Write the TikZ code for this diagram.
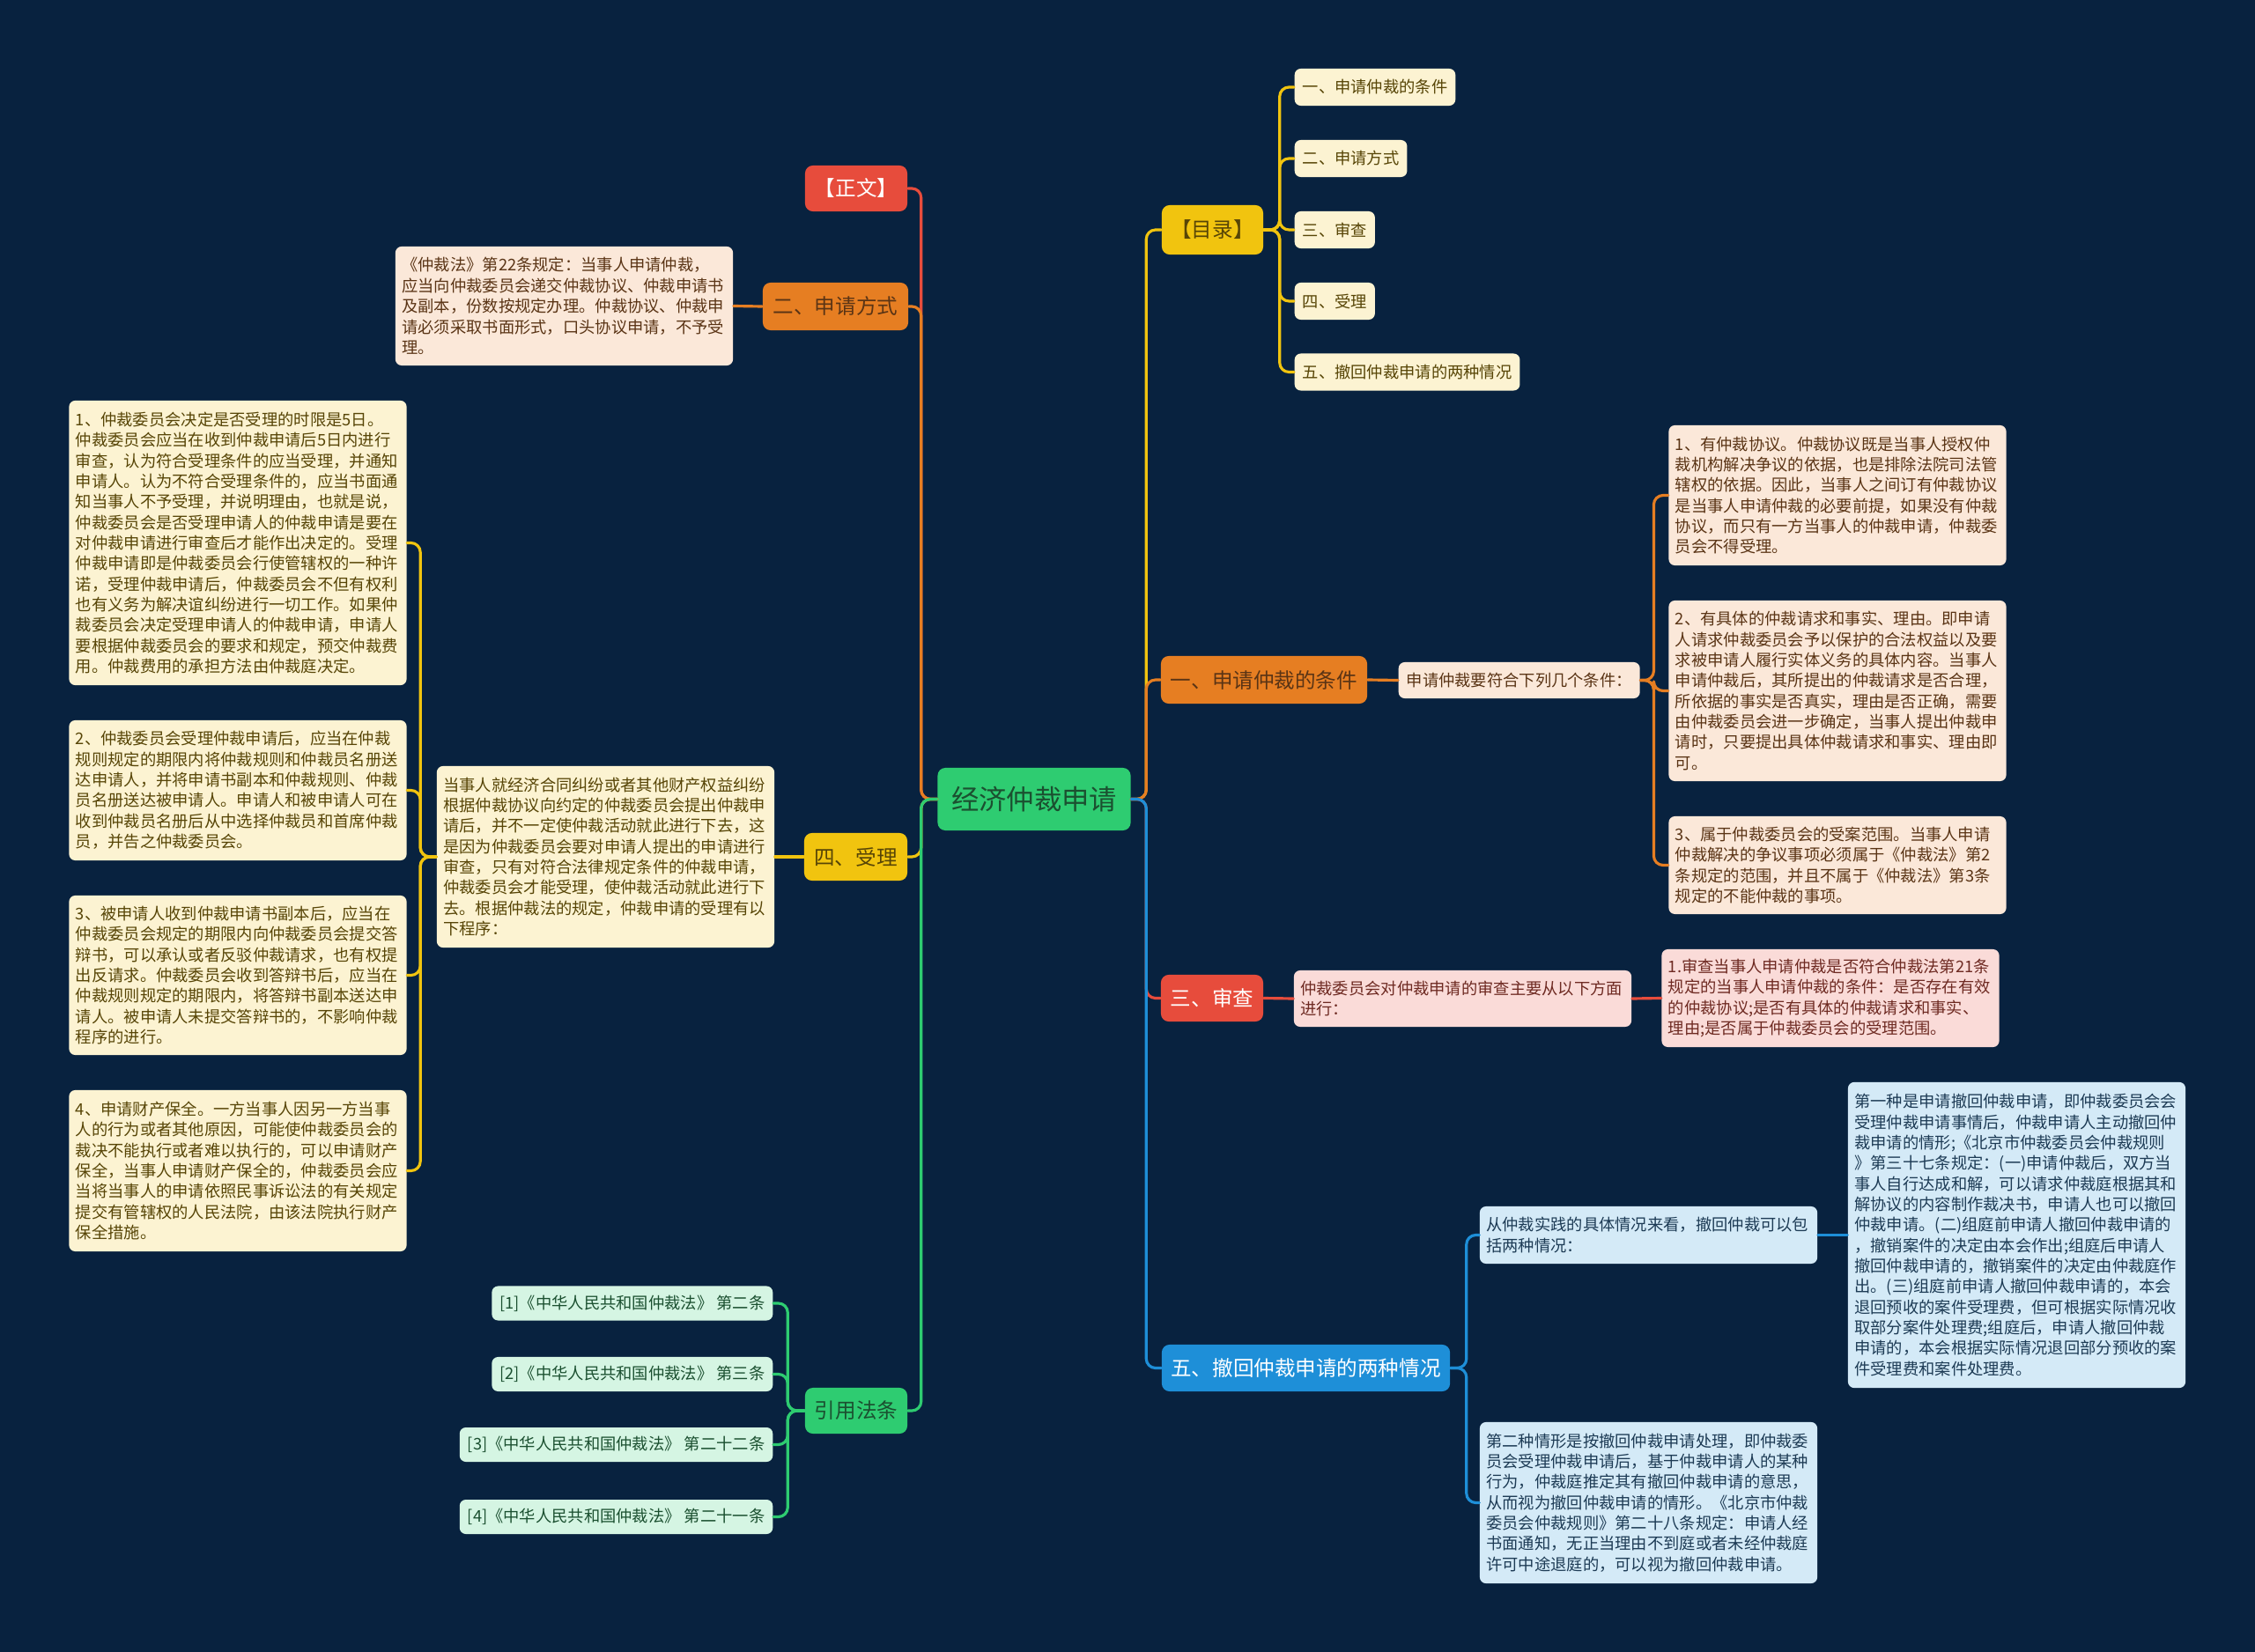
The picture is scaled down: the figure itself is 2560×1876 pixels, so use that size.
\documentclass[tikz,border=0pt]{standalone}
\usepackage{fontspec}
\setmainfont{Noto Sans CJK SC}
\usepackage{tikz}
\definecolor{mapbg}{HTML}{08223F}
\definecolor{mapgreen}{HTML}{2ECC71}
\definecolor{mapred}{HTML}{E74C3C}
\definecolor{maporange}{HTML}{E67E22}
\definecolor{mapyellow}{HTML}{F1C40F}
\definecolor{mapblue}{HTML}{1E8FD8}
\definecolor{leaforange}{HTML}{FBE8D9}
\definecolor{leafyellow}{HTML}{FCF3D2}
\definecolor{leafred}{HTML}{FADBD8}
\definecolor{leafblue}{HTML}{D4EAF7}
\definecolor{leafgreen}{HTML}{D5F5E3}
\definecolor{inkorange}{HTML}{5A3415}
\definecolor{inkyellow}{HTML}{574506}
\definecolor{inkred}{HTML}{6E2A22}
\definecolor{inkblue}{HTML}{1D3B55}
\definecolor{inkgreen}{HTML}{1B5030}

\begin{document}
\begin{tikzpicture}[x=0.01cm,y=-0.01cm,line cap=round,line join=round,
  topic/.style={rounded corners=2.5pt,inner sep=0pt,font=\fontsize{6.7}{8}\selectfont},
  leaf/.style={rounded corners=2pt,inner xsep=0.09cm,inner ysep=0pt,align=left,
    font=\fontsize{5.2}{6.64}\selectfont},
  note/.style={leaf,inner xsep=0.075cm,text width=3.68cm},
  link/.style={line width=0.9pt,rounded corners=3pt}]
\path[use as bounding box] (0,0) rectangle (2560,1876);
\fill[mapbg] (0,0) rectangle (2560,1876);
% 中心
\node[topic,fill=mapgreen,text=inkgreen,font=\fontsize{8.9}{10}\selectfont,
  minimum width=2.19cm,minimum height=0.71cm] (root) at (1174,907.5) {经济仲裁申请};
% 左侧一级
\node[topic,fill=mapred,text=white,minimum width=1.16cm,minimum height=0.52cm] (zw) at (972,214) {【正文】};
\node[topic,fill=maporange,text=inkorange,minimum width=1.65cm,minimum height=0.54cm] (sqfs) at (948.5,348) {二、申请方式};
\node[topic,fill=mapyellow,text=inkyellow,minimum width=1.17cm,minimum height=0.54cm] (sl) at (971.5,973) {四、受理};
\node[topic,fill=mapgreen,text=inkgreen,minimum width=1.16cm,minimum height=0.52cm] (yyft) at (972,1602) {引用法条};
% 右侧一级
\node[topic,fill=mapyellow,text=inkyellow,minimum width=1.15cm,minimum height=0.56cm] (ml) at (1376.5,261) {【目录】};
\node[topic,fill=maporange,text=inkorange,minimum width=2.34cm,minimum height=0.54cm] (tj) at (1435,772) {一、申请仲裁的条件};
\node[topic,fill=mapred,text=white,minimum width=1.16cm,minimum height=0.53cm] (sc) at (1376,1133.5) {三、审查};
\node[topic,fill=mapblue,text=white,minimum width=3.27cm,minimum height=0.53cm] (ch) at (1482.5,1553.5) {五、撤回仲裁申请的两种情况};
% 目录
\node[leaf,fill=leafyellow,text=inkyellow,anchor=west,minimum height=0.42cm] (ml1) at (1469,99) {一、申请仲裁的条件};
\node[leaf,fill=leafyellow,text=inkyellow,anchor=west,minimum height=0.42cm] (ml2) at (1469,180) {二、申请方式};
\node[leaf,fill=leafyellow,text=inkyellow,anchor=west,minimum height=0.42cm] (ml3) at (1469,261) {三、审查};
\node[leaf,fill=leafyellow,text=inkyellow,anchor=west,minimum height=0.42cm] (ml4) at (1469,342) {四、受理};
\node[leaf,fill=leafyellow,text=inkyellow,anchor=west,minimum height=0.42cm] (ml5) at (1469,422.5) {五、撤回仲裁申请的两种情况};
% 一、申请仲裁的条件
\node[leaf,fill=leaforange,text=inkorange,anchor=west,minimum height=0.41cm] (tjintro) at (1587,772.5) {申请仲裁要符合下列几个条件：};
\node[note,fill=leaforange,text=inkorange,minimum height=1.59cm] (tj1) at (2086,562.5)
  {1、有仲裁协议。仲裁协议既是当事人授权仲\\裁机构解决争议的依据，也是排除法院司法管\\辖权的依据。因此，当事人之间订有仲裁协议\\是当事人申请仲裁的必要前提，如果没有仲裁\\协议，而只有一方当事人的仲裁申请，仲裁委\\员会不得受理。};
\node[note,fill=leaforange,text=inkorange,minimum height=2.05cm] (tj2) at (2086,784.5)
  {2、有具体的仲裁请求和事实、理由。即申请\\人请求仲裁委员会予以保护的合法权益以及要\\求被申请人履行实体义务的具体内容。当事人\\申请仲裁后，其所提出的仲裁请求是否合理，\\所依据的事实是否真实，理由是否正确，需要\\由仲裁委员会进一步确定，当事人提出仲裁申\\请时，只要提出具体仲裁请求和事实、理由即\\可。};
\node[note,fill=leaforange,text=inkorange,minimum height=1.11cm] (tj3) at (2086,982.5)
  {3、属于仲裁委员会的受案范围。当事人申请\\仲裁解决的争议事项必须属于《仲裁法》第2\\条规定的范围，并且不属于《仲裁法》第3条\\规定的不能仲裁的事项。};
% 三、审查
\node[note,fill=leafred,text=inkred,minimum height=0.64cm] (scintro) at (1660.5,1134)
  {仲裁委员会对仲裁申请的审查主要从以下方面\\进行：};
\node[note,fill=leafred,text=inkred,minimum height=1.11cm] (sc1) at (2078,1133.5)
  {1.审查当事人申请仲裁是否符合仲裁法第21条\\规定的当事人申请仲裁的条件：是否存在有效\\的仲裁协议;是否有具体的仲裁请求和事实、\\理由;是否属于仲裁委员会的受理范围。};
% 五、撤回
\node[note,fill=leafblue,text=inkblue,minimum height=0.65cm] (chintro) at (1871.5,1402.5)
  {从仲裁实践的具体情况来看，撤回仲裁可以包\\括两种情况：};
\node[note,fill=leafblue,text=inkblue,minimum height=3.47cm] (ch1) at (2289.5,1402.5)
  {第一种是申请撤回仲裁申请，即仲裁委员会会\\受理仲裁申请事情后，仲裁申请人主动撤回仲\\裁申请的情形;《北京市仲裁委员会仲裁规则\\》第三十七条规定：(一)申请仲裁后，双方当\\事人自行达成和解，可以请求仲裁庭根据其和\\解协议的内容制作裁决书，申请人也可以撤回\\仲裁申请。(二)组庭前申请人撤回仲裁申请的\\，撤销案件的决定由本会作出;组庭后申请人\\撤回仲裁申请的，撤销案件的决定由仲裁庭作\\出。(三)组庭前申请人撤回仲裁申请的，本会\\退回预收的案件受理费，但可根据实际情况收\\取部分案件处理费;组庭后，申请人撤回仲裁\\申请的，本会根据实际情况退回部分预收的案\\件受理费和案件处理费。};
\node[note,fill=leafblue,text=inkblue,minimum height=1.83cm] (ch2) at (1871.5,1706.5)
  {第二种情形是按撤回仲裁申请处理，即仲裁委\\员会受理仲裁申请后，基于仲裁申请人的某种\\行为，仲裁庭推定其有撤回仲裁申请的意思，\\从而视为撤回仲裁申请的情形。《北京市仲裁\\委员会仲裁规则》第二十八条规定：申请人经\\书面通知，无正当理由不到庭或者未经仲裁庭\\许可中途退庭的，可以视为撤回仲裁申请。};
% 二、申请方式
\node[note,fill=leaforange,text=inkorange,minimum height=1.35cm] (fsnote) at (640.5,347.5)
  {《仲裁法》第22条规定：当事人申请仲裁，\\应当向仲裁委员会递交仲裁协议、仲裁申请书\\及副本，份数按规定办理。仲裁协议、仲裁申\\请必须采取书面形式，口头协议申请，不予受\\理。};
% 四、受理
\node[note,fill=leafyellow,text=inkyellow,minimum height=2.06cm] (slintro) at (687.5,973)
  {当事人就经济合同纠纷或者其他财产权益纠纷\\根据仲裁协议向约定的仲裁委员会提出仲裁申\\请后，并不一定使仲裁活动就此进行下去，这\\是因为仲裁委员会要对申请人提出的申请进行\\审查，只有对符合法律规定条件的仲裁申请，\\仲裁委员会才能受理，使仲裁活动就此进行下\\去。根据仲裁法的规定，仲裁申请的受理有以\\下程序：};
\node[note,fill=leafyellow,text=inkyellow,minimum height=3.23cm] (sl1) at (270,616.5)
  {1、仲裁委员会决定是否受理的时限是5日。\\仲裁委员会应当在收到仲裁申请后5日内进行\\审查，认为符合受理条件的应当受理，并通知\\申请人。认为不符合受理条件的，应当书面通\\知当事人不予受理，并说明理由，也就是说，\\仲裁委员会是否受理申请人的仲裁申请是要在\\对仲裁申请进行审查后才能作出决定的。受理\\仲裁申请即是仲裁委员会行使管辖权的一种许\\诺，受理仲裁申请后，仲裁委员会不但有权利\\也有义务为解决谊纠纷进行一切工作。如果仲\\裁委员会决定受理申请人的仲裁申请，申请人\\要根据仲裁委员会的要求和规定，预交仲裁费\\用。仲裁费用的承担方法由仲裁庭决定。};
\node[note,fill=leafyellow,text=inkyellow,minimum height=1.59cm] (sl2) at (270,897.5)
  {2、仲裁委员会受理仲裁申请后，应当在仲裁\\规则规定的期限内将仲裁规则和仲裁员名册送\\达申请人，并将申请书副本和仲裁规则、仲裁\\员名册送达被申请人。申请人和被申请人可在\\收到仲裁员名册后从中选择仲裁员和首席仲裁\\员，并告之仲裁委员会。};
\node[note,fill=leafyellow,text=inkyellow,minimum height=1.81cm] (sl3) at (270,1107.5)
  {3、被申请人收到仲裁申请书副本后，应当在\\仲裁委员会规定的期限内向仲裁委员会提交答\\辩书，可以承认或者反驳仲裁请求，也有权提\\出反请求。仲裁委员会收到答辩书后，应当在\\仲裁规则规定的期限内，将答辩书副本送达申\\请人。被申请人未提交答辩书的，不影响仲裁\\程序的进行。};
\node[note,fill=leafyellow,text=inkyellow,minimum height=1.83cm] (sl4) at (270,1329.5)
  {4、申请财产保全。一方当事人因另一方当事\\人的行为或者其他原因，可能使仲裁委员会的\\裁决不能执行或者难以执行的，可以申请财产\\保全，当事人申请财产保全的，仲裁委员会应\\当将当事人的申请依照民事诉讼法的有关规定\\提交有管辖权的人民法院，由该法院执行财产\\保全措施。};
% 引用法条
\node[leaf,fill=leafgreen,text=inkgreen,anchor=east,minimum height=0.39cm] (ft1) at (878,1480) {[1]《中华人民共和国仲裁法》 第二条};
\node[leaf,fill=leafgreen,text=inkgreen,anchor=east,minimum height=0.39cm] (ft2) at (878,1560.5) {[2]《中华人民共和国仲裁法》 第三条};
\node[leaf,fill=leafgreen,text=inkgreen,anchor=east,minimum height=0.39cm] (ft3) at (878,1640.5) {[3]《中华人民共和国仲裁法》 第二十二条};
\node[leaf,fill=leafgreen,text=inkgreen,anchor=east,minimum height=0.39cm] (ft4) at (878,1722.5) {[4]《中华人民共和国仲裁法》 第二十一条};
% 连线
\draw[link,mapred] (root.west) -- ++(-18,0) |- (zw.east);
\draw[link,maporange] (root.west) -- ++(-18,0) |- (sqfs.east);
\draw[link,mapyellow] (root.west) -- ++(-18,0) |- (sl.east);
\draw[link,mapgreen] (root.west) -- ++(-18,0) |- (yyft.east);
\draw[link,mapyellow] (root.east) -- ++(17,0) |- (ml.west);
\draw[link,maporange] (root.east) -- ++(17,0) |- (tj.west);
\draw[link,mapred] (root.east) -- ++(17,0) |- (sc.west);
\draw[link,mapblue] (root.east) -- ++(17,0) |- (ch.west);
\foreach \n in {ml1,ml2,ml3,ml4,ml5}
  \draw[link,mapyellow] (ml.east) -- ++(18,0) |- (\n.west);
\draw[link,maporange] (tj.east) -- (tjintro.west);
\foreach \n in {tj1,tj2,tj3}
  \draw[link,maporange] (tjintro.east) -- ++(15,0) |- (\n.west);
\draw[link,mapred] (sc.east) -- (scintro.west);
\draw[link,mapred] (scintro.east) -- (sc1.west);
\foreach \n in {chintro,ch2}
  \draw[link,mapblue] (ch.east) -- ++(18,0) |- (\n.west);
\draw[link,mapblue] (chintro.east) -- (ch1.west);
\draw[link,maporange] (sqfs.west) -- (fsnote.east);
\draw[link,mapyellow] (sl.west) -- (slintro.east);
\foreach \n in {sl1,sl2,sl3,sl4}
  \draw[link,mapyellow] (slintro.west) -- ++(-18,0) |- (\n.east);
\foreach \n in {ft1,ft2,ft3,ft4}
  \draw[link,mapgreen] (yyft.west) -- ++(-19,0) |- (\n.east);
\end{tikzpicture}
\end{document}
